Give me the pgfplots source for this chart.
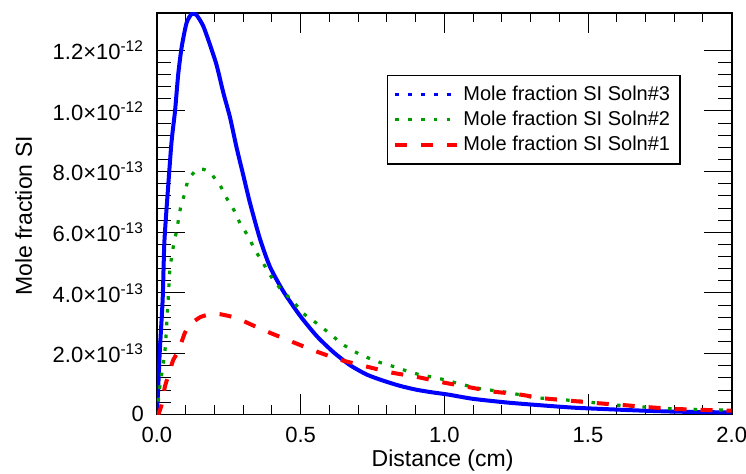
\documentclass[border=0pt]{standalone}
\usepackage{pgfplots}
\pgfplotsset{compat=1.18}
\usepackage{fontspec}
\setmainfont{Liberation Sans}
\definecolor{myblue}{RGB}{0,0,255}
\definecolor{mygreen}{RGB}{0,155,0}
\definecolor{myred}{RGB}{255,0,0}
\pgfplotstableread{
x y
0 0
0.005 1.0e-13
0.010 2.1e-13
0.020 3.8e-13
0.026 5.7e-13
0.039 7.5e-13
0.051 9.0e-13
0.063 1.0e-12
0.074 1.12e-12
0.086 1.21e-12
0.103 1.29e-12
0.121 1.32e-12
0.138 1.316e-12
0.161 1.28e-12
0.184 1.22e-12
0.208 1.15e-12
0.231 1.06e-12
0.254 9.8e-13
0.277 8.8e-13
0.300 7.9e-13
0.324 6.96e-13
0.358 5.8e-13
0.393 4.87e-13
0.440 4.05e-13
0.498 3.25e-13
0.556 2.58e-13
0.614 2.05e-13
0.672 1.62e-13
0.730 1.31e-13
0.787 1.11e-13
0.845 9.4e-14
0.903 8.1e-14
0.961 7.2e-14
1.014 6.5e-14
1.100 5.1e-14
1.217 3.9e-14
1.333 3.0e-14
1.449 2.2e-14
1.565 1.7e-14
1.680 1.25e-14
1.797 9e-15
2.000 6e-15
}\solnthree
\pgfplotstableread{
x y
0 0
0.010 9e-14
0.028 2.1e-13
0.039 3.77e-13
0.045 4.76e-13
0.057 5.53e-13
0.069 6.08e-13
0.082 6.8e-13
0.097 7.29e-13
0.109 7.73e-13
0.138 8.06e-13
0.160 8.08e-13
0.184 7.97e-13
0.219 7.56e-13
0.243 7.12e-13
0.271 6.68e-13
0.289 6.30e-13
0.318 5.86e-13
0.341 5.42e-13
0.370 4.98e-13
0.393 4.6e-13
0.428 4.16e-13
0.474 3.72e-13
0.509 3.33e-13
0.556 3.0e-13
0.602 2.66e-13
0.643 2.33e-13
0.687 2.07e-13
0.730 1.88e-13
0.776 1.71e-13
0.822 1.58e-13
0.866 1.44e-13
0.909 1.32e-13
0.956 1.23e-13
1.000 1.14e-13
1.043 1.03e-13
1.089 9.2e-14
1.135 8.3e-14
1.222 7.2e-14
1.309 5.6e-14
1.400 4.9e-14
1.489 4.2e-14
1.576 3.2e-14
1.669 2.6e-14
1.756 2.0e-14
1.843 1.7e-14
1.936 1.5e-14
2.000 1.3e-14
}\solntwo
\pgfplotstableread{
x y
0 0
0.005 0
0.016 3.1e-14
0.028 9.2e-14
0.039 1.25e-13
0.057 1.8e-13
0.074 2.07e-13
0.097 2.68e-13
0.115 2.95e-13
0.150 3.2e-13
0.190 3.31e-13
0.220 3.3e-13
0.277 3.17e-13
0.370 2.78e-13
0.460 2.43e-13
0.550 2.09e-13
0.637 1.80e-13
0.727 1.58e-13
0.814 1.38e-13
0.906 1.23e-13
0.996 1.05e-13
1.083 9.0e-14
1.170 7.5e-14
1.257 6.6e-14
1.344 5.3e-14
1.437 4.5e-14
1.530 3.7e-14
1.617 3.1e-14
1.704 2.4e-14
1.797 1.8e-14
1.884 1.5e-14
1.977 1.25e-14
2.000 1.2e-14
}\solnone
\begin{document}
\begin{tikzpicture}
\useasboundingbox (-78.5pt,-29.75pt) rectangle (294.65pt,207.25pt);
\begin{axis}[
  scale only axis,
  width=287.5pt, height=200.75pt,
  xmin=0, xmax=2, ymin=0, ymax=1.323e-12,
  xtick={0,0.5,1,1.5,2},
  xticklabels={0.0,0.5,1.0,1.5,2.0},
  ytick={0,2e-13,4e-13,6e-13,8e-13,1e-12,1.2e-12},
  yticklabels={0,2.0×10\textsuperscript{-13},4.0×10\textsuperscript{-13},6.0×10\textsuperscript{-13},8.0×10\textsuperscript{-13},1.0×10\textsuperscript{-12},1.2×10\textsuperscript{-12}},
  scaled y ticks=false,
  minor x tick num=4, minor y tick num=4,
  tick align=inside, tickpos=both,
  every major x tick/.append style={/pgfplots/major tick length=10pt},
  every minor x tick/.append style={/pgfplots/minor tick length=4.5pt},
  every major y tick/.append style={/pgfplots/major tick length=14pt},
  every minor y tick/.append style={/pgfplots/minor tick length=7pt},
  tick style={black, line width=0.5pt},
  axis line style={line width=0.8pt},
  tick label style={font=\fontsize{11}{13}\selectfont},
  xticklabel style={yshift=-3pt},
  yticklabel style={xshift=-3pt},
  xlabel={Distance (cm)},
  ylabel={Mole fraction SI},
  every axis x label/.style={at={(axis description cs:0.497,-0.116)}, anchor=center, font=\fontsize{11.5}{13}\selectfont},
  every axis y label/.style={at={(axis description cs:-0.232,0.494)}, rotate=90, anchor=center, font=\fontsize{11.5}{13}\selectfont},
  legend style={at={(axis description cs:0.40,0.8456)}, anchor=north west, draw=black, line width=0.6pt,
    font=\fontsize{10}{11}\selectfont, row sep=0pt, inner xsep=3pt, inner ysep=3pt},
  legend cell align=left,
  legend image code/.code={\draw[#1] (0pt,0pt) -- (31pt,0pt);},
]
\addplot[myblue, line width=2pt, smooth, tension=0.4, legend image post style={line width=1.6pt, dash pattern=on 1.6pt off 4.9pt}] table {\solnthree};
\addlegendentry{Mole fraction SI Soln\#3}
\addplot[mygreen, line width=1.6pt, smooth, tension=0.4, dash pattern=on 1.8pt off 4.6pt] table {\solntwo};
\addlegendentry{Mole fraction SI Soln\#2}
\addplot[myred, line width=2pt, smooth, tension=0.4, dash pattern=on 6pt off 7pt] table {\solnone};
\addlegendentry{Mole fraction SI Soln\#1}
\end{axis}
\end{tikzpicture}
\end{document}
